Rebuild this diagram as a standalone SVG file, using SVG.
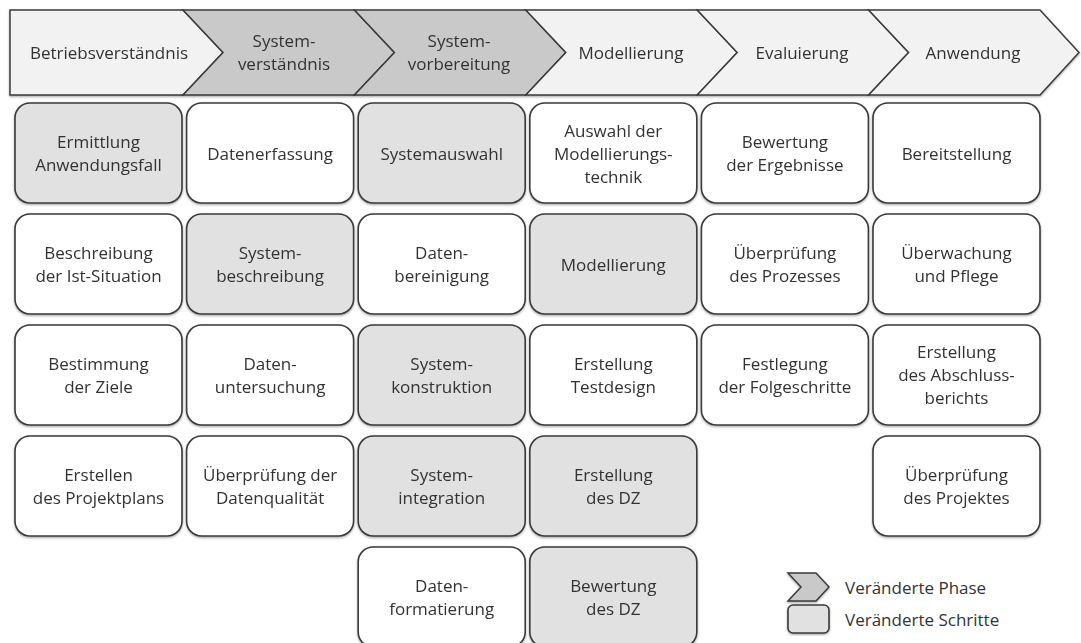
<svg xmlns="http://www.w3.org/2000/svg" width="1081" height="643" viewBox="0 0 1081 643">
  <defs>
    <filter id="soft" x="-5%" y="-5%" width="110%" height="115%">
      <feDropShadow dx="0" dy="1.2" stdDeviation="0.8" flood-color="#000" flood-opacity="0.35"/>
    </filter>
    <style>
      .lbl { font-family: "Open Sans", Lato, "Liberation Sans", sans-serif; font-size: 17px; fill: #333333; text-anchor: middle; }
      .leg { font-family: "Open Sans", Lato, "Liberation Sans", sans-serif; font-size: 17px; fill: #333333; }
      .phase { fill: #f2f2f2; stroke: #3a3a3a; stroke-width: 1.5; stroke-linejoin: miter; }
      .phase.chg { fill: #c9c9c9; }
      .step { fill: #ffffff; stroke: #3a3a3a; stroke-width: 1.6; }
      .step.chg { fill: #e1e1e1; }
    </style>
  </defs>
  <rect width="1081" height="643" fill="#ffffff"/>

  <!-- Phase bar -->
  <g id="phases" filter="url(#soft)">
    <g id="phase-betrieb">
      <polygon class="phase" points="10,10 183,10 223,52.5 183,95 10,95"/>
      <text class="lbl" x="109" y="59">Betriebsverständnis</text>
    </g>
    <g id="phase-systemverstaendnis">
      <polygon class="phase chg" points="183,10 354.4,10 394.4,52.5 354.4,95 183,95 223,52.5"/>
      <text class="lbl" x="284" y="47">System-</text>
      <text class="lbl" x="284" y="70">verständnis</text>
    </g>
    <g id="phase-systemvorbereitung">
      <polygon class="phase chg" points="354.4,10 525.8,10 565.8,52.5 525.8,95 354.4,95 394.4,52.5"/>
      <text class="lbl" x="459" y="47">System-</text>
      <text class="lbl" x="459" y="70">vorbereitung</text>
    </g>
    <g id="phase-modellierung">
      <polygon class="phase" points="525.8,10 697.2,10 737.2,52.5 697.2,95 525.8,95 565.8,52.5"/>
      <text class="lbl" x="631" y="59">Modellierung</text>
    </g>
    <g id="phase-evaluierung">
      <polygon class="phase" points="697.2,10 868.6,10 908.6,52.5 868.6,95 697.2,95 737.2,52.5"/>
      <text class="lbl" x="802" y="59">Evaluierung</text>
    </g>
    <g id="phase-anwendung">
      <polygon class="phase" points="868.6,10 1040,10 1079,52.5 1040,95 868.6,95 908.6,52.5"/>
      <text class="lbl" x="973" y="59">Anwendung</text>
    </g>
  </g>

  <!-- Steps: columns at x = 15 + 171.6*i, rows at y = 103 + 111*j -->
  <g id="steps" filter="url(#soft)">
    <!-- column 1 -->
    <g id="s-ermittlung">
      <rect class="step chg" x="15" y="103" width="167" height="100" rx="15"/>
      <text class="lbl" x="98.5" y="148">Ermittlung</text>
      <text class="lbl" x="98.5" y="171">Anwendungsfall</text>
    </g>
    <g id="s-ist-situation">
      <rect class="step" x="15" y="214" width="167" height="100" rx="15"/>
      <text class="lbl" x="98.5" y="259">Beschreibung</text>
      <text class="lbl" x="98.5" y="282">der Ist-Situation</text>
    </g>
    <g id="s-ziele">
      <rect class="step" x="15" y="325" width="167" height="100" rx="15"/>
      <text class="lbl" x="98.5" y="370">Bestimmung</text>
      <text class="lbl" x="98.5" y="393">der Ziele</text>
    </g>
    <g id="s-projektplan">
      <rect class="step" x="15" y="436" width="167" height="100" rx="15"/>
      <text class="lbl" x="98.5" y="481">Erstellen</text>
      <text class="lbl" x="98.5" y="504">des Projektplans</text>
    </g>

    <!-- column 2 -->
    <g id="s-datenerfassung">
      <rect class="step" x="186.6" y="103" width="167" height="100" rx="15"/>
      <text class="lbl" x="270.1" y="160">Datenerfassung</text>
    </g>
    <g id="s-systembeschreibung">
      <rect class="step chg" x="186.6" y="214" width="167" height="100" rx="15"/>
      <text class="lbl" x="270.1" y="259">System-</text>
      <text class="lbl" x="270.1" y="282">beschreibung</text>
    </g>
    <g id="s-datenuntersuchung">
      <rect class="step" x="186.6" y="325" width="167" height="100" rx="15"/>
      <text class="lbl" x="270.1" y="370">Daten-</text>
      <text class="lbl" x="270.1" y="393">untersuchung</text>
    </g>
    <g id="s-datenqualitaet">
      <rect class="step" x="186.6" y="436" width="167" height="100" rx="15"/>
      <text class="lbl" x="270.1" y="481">Überprüfung der</text>
      <text class="lbl" x="270.1" y="504">Datenqualität</text>
    </g>

    <!-- column 3 -->
    <g id="s-systemauswahl">
      <rect class="step chg" x="358.2" y="103" width="167" height="100" rx="15"/>
      <text class="lbl" x="441.7" y="160">Systemauswahl</text>
    </g>
    <g id="s-datenbereinigung">
      <rect class="step" x="358.2" y="214" width="167" height="100" rx="15"/>
      <text class="lbl" x="441.7" y="259">Daten-</text>
      <text class="lbl" x="441.7" y="282">bereinigung</text>
    </g>
    <g id="s-systemkonstruktion">
      <rect class="step chg" x="358.2" y="325" width="167" height="100" rx="15"/>
      <text class="lbl" x="441.7" y="370">System-</text>
      <text class="lbl" x="441.7" y="393">konstruktion</text>
    </g>
    <g id="s-systemintegration">
      <rect class="step chg" x="358.2" y="436" width="167" height="100" rx="15"/>
      <text class="lbl" x="441.7" y="481">System-</text>
      <text class="lbl" x="441.7" y="504">integration</text>
    </g>
    <g id="s-datenformatierung">
      <rect class="step" x="358.2" y="547" width="167" height="100" rx="15"/>
      <text class="lbl" x="441.7" y="592">Daten-</text>
      <text class="lbl" x="441.7" y="615">formatierung</text>
    </g>

    <!-- column 4 -->
    <g id="s-modellierungstechnik">
      <rect class="step" x="529.8" y="103" width="167" height="100" rx="15"/>
      <text class="lbl" x="613.3" y="137">Auswahl der</text>
      <text class="lbl" x="613.3" y="160">Modellierungs-</text>
      <text class="lbl" x="613.3" y="183">technik</text>
    </g>
    <g id="s-modellierung">
      <rect class="step chg" x="529.8" y="214" width="167" height="100" rx="15"/>
      <text class="lbl" x="613.3" y="271">Modellierung</text>
    </g>
    <g id="s-testdesign">
      <rect class="step" x="529.8" y="325" width="167" height="100" rx="15"/>
      <text class="lbl" x="613.3" y="370">Erstellung</text>
      <text class="lbl" x="613.3" y="393">Testdesign</text>
    </g>
    <g id="s-erstellung-dz">
      <rect class="step chg" x="529.8" y="436" width="167" height="100" rx="15"/>
      <text class="lbl" x="613.3" y="481">Erstellung</text>
      <text class="lbl" x="613.3" y="504">des DZ</text>
    </g>
    <g id="s-bewertung-dz">
      <rect class="step chg" x="529.8" y="547" width="167" height="100" rx="15"/>
      <text class="lbl" x="613.3" y="592">Bewertung</text>
      <text class="lbl" x="613.3" y="615">des DZ</text>
    </g>

    <!-- column 5 -->
    <g id="s-ergebnisse">
      <rect class="step" x="701.4" y="103" width="167" height="100" rx="15"/>
      <text class="lbl" x="784.9" y="148">Bewertung</text>
      <text class="lbl" x="784.9" y="171">der Ergebnisse</text>
    </g>
    <g id="s-prozess">
      <rect class="step" x="701.4" y="214" width="167" height="100" rx="15"/>
      <text class="lbl" x="784.9" y="259">Überprüfung</text>
      <text class="lbl" x="784.9" y="282">des Prozesses</text>
    </g>
    <g id="s-folgeschritte">
      <rect class="step" x="701.4" y="325" width="167" height="100" rx="15"/>
      <text class="lbl" x="784.9" y="370">Festlegung</text>
      <text class="lbl" x="784.9" y="393">der Folgeschritte</text>
    </g>

    <!-- column 6 -->
    <g id="s-bereitstellung">
      <rect class="step" x="873" y="103" width="167" height="100" rx="15"/>
      <text class="lbl" x="956.5" y="160">Bereitstellung</text>
    </g>
    <g id="s-ueberwachung">
      <rect class="step" x="873" y="214" width="167" height="100" rx="15"/>
      <text class="lbl" x="956.5" y="259">Überwachung</text>
      <text class="lbl" x="956.5" y="282">und Pflege</text>
    </g>
    <g id="s-abschlussbericht">
      <rect class="step" x="873" y="325" width="167" height="100" rx="15"/>
      <text class="lbl" x="956.5" y="358">Erstellung</text>
      <text class="lbl" x="956.5" y="381">des Abschluss-</text>
      <text class="lbl" x="956.5" y="404">berichts</text>
    </g>
    <g id="s-projekt">
      <rect class="step" x="873" y="436" width="167" height="100" rx="15"/>
      <text class="lbl" x="956.5" y="481">Überprüfung</text>
      <text class="lbl" x="956.5" y="504">des Projektes</text>
    </g>
  </g>

  <!-- connectors: none drawn between steps -->
  <g id="connectors"/>

  <!-- Legend -->
  <g id="legend">
    <g id="legend-phase">
      <polygon class="phase chg" points="788,573 816,573 829,587 816,601 788,601 801,587" filter="url(#soft)"/>
      <text class="leg" x="845" y="594">Veränderte Phase</text>
    </g>
    <g id="legend-step">
      <rect class="step chg" x="788" y="605" width="41" height="28" rx="5" filter="url(#soft)"/>
      <text class="leg" x="845" y="626">Veränderte Schritte</text>
    </g>
  </g>
</svg>
